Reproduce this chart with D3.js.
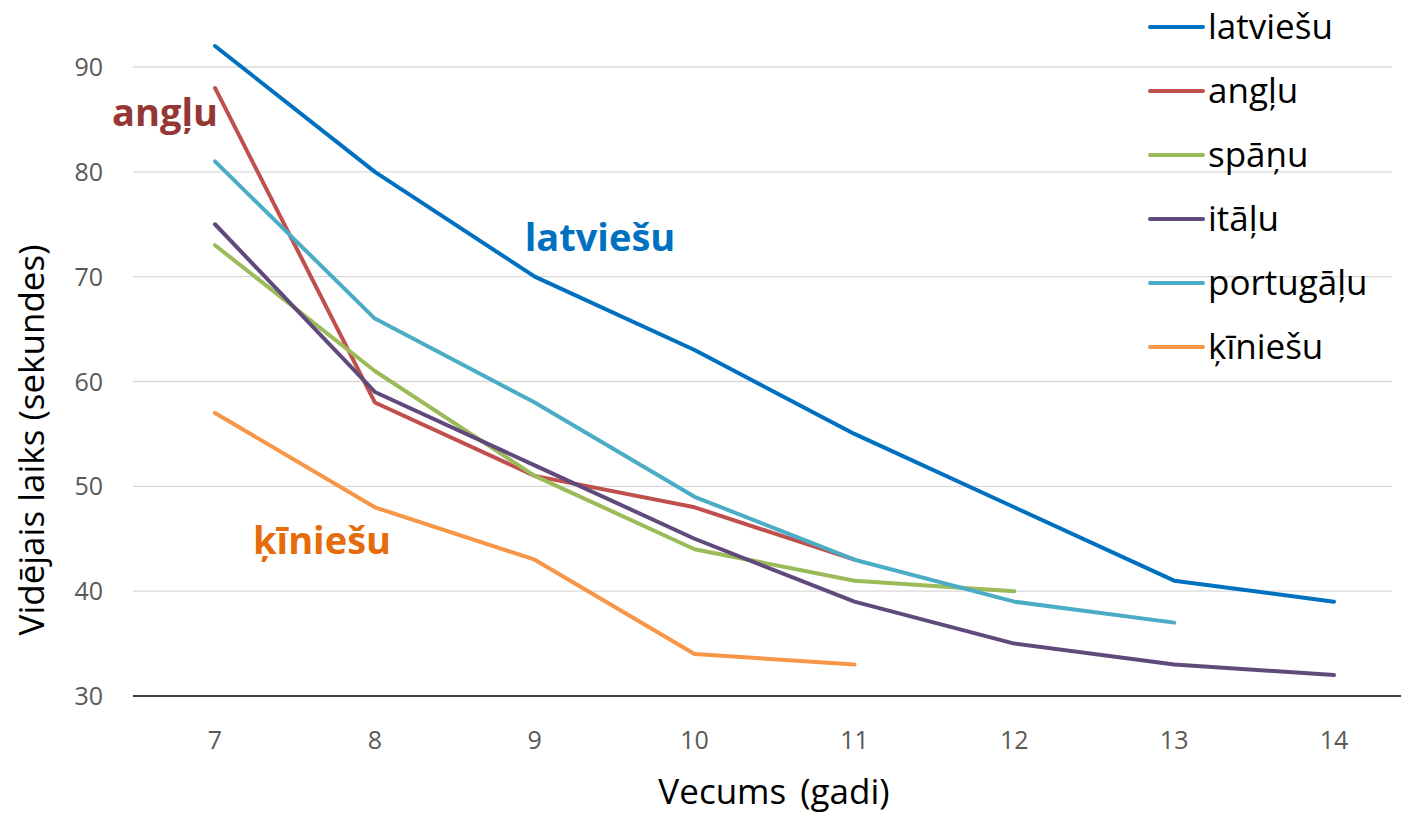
<!DOCTYPE html>
<html><head><meta charset="utf-8">
<script src="https://cdn.jsdelivr.net/npm/d3@7"></script>
<style>body{margin:0;background:#fff}svg{display:block;font-family:"Open Sans",sans-serif}</style>
</head><body><svg id="c" width="1401" height="813"></svg>
<script>
const ages = [7, 8, 9, 10, 11, 12, 13, 14];
const yTicks = [30, 40, 50, 60, 70, 80, 90];
const seriesNames = ["latviešu", "angļu", "spāņu", "itāļu", "portugāļu", "ķīniešu"];
const latviesu = [92, 80, 70, 63, 55, 48, 41, 39];
const anglu = [88, 58, 51, 48, 43];
const spanu = [73, 61, 51, 44, 41, 40];
const italu = [75, 59, 52, 45, 39, 35, 33, 32];
const portugalu = [81, 66, 58, 49, 43, 39, 37];
const kiniesu = [57, 48, 43, 34, 33];
const colors = ["#0070C0", "#C0504D", "#9BBB59", "#604A7B", "#4BACC6", "#F79646"];
const annotations = [
  {text: "angļu", color: "#953735"},
  {text: "latviešu", color: "#0070C0"},
  {text: "ķīniešu", color: "#E46C0A"}
];

const svg = d3.select("#c");
const x = d3.scalePoint().domain(ages).range([215, 1334]);
const y = d3.scaleLinear().domain([30, 90]).range([696, 67]);

// gridlines
svg.append("g").selectAll("line").data(yTicks.filter(t => t !== 30)).join("line")
  .attr("x1", 133).attr("x2", 1392)
  .attr("y1", d => y(d)).attr("y2", d => y(d))
  .attr("stroke", "#d9d9d9").attr("stroke-width", 1.3);
// baseline
svg.append("line").attr("x1", 133).attr("x2", 1401).attr("y1", y(30)).attr("y2", y(30))
  .attr("stroke", "#000").attr("stroke-width", 1.5);

// y ticks
svg.append("g").selectAll("text").data(yTicks).join("text")
  .attr("x", 103).attr("y", d => y(d)).attr("dy", "0.36em")
  .attr("text-anchor", "end").attr("font-size", 25).attr("fill", "#595959")
  .text(d => d);
// x ticks
svg.append("g").selectAll("text").data(ages).join("text")
  .attr("x", d => x(d)).attr("y", 740).attr("dy", "0.36em")
  .attr("text-anchor", "middle").attr("font-size", 25).attr("fill", "#595959")
  .text(d => d);

// axis titles
svg.append("text").attr("x", 774).attr("y", 804).attr("text-anchor", "middle")
  .attr("font-size", 35).attr("fill", "#000").attr("word-spacing", 5).text("Vecums (gadi)");
svg.append("text").attr("transform", "translate(44,440) rotate(-90)").attr("text-anchor", "middle")
  .attr("font-size", 35).attr("fill", "#000").text("Vidējais laiks (sekundes)");

// lines
const data = [latviesu, anglu, spanu, italu, portugalu, kiniesu];
const line = d3.line().x((d, i) => x(ages[i])).y(d => y(d));
const drawOrder = [1, 2, 3, 4, 5, 0];
svg.append("g").selectAll("path").data(drawOrder).join("path")
  .attr("d", i => line(data[i]))
  .attr("fill", "none").attr("stroke", i => colors[i]).attr("stroke-width", 4)
  .attr("stroke-linejoin", "round").attr("stroke-linecap", "round");

// annotations
const annPos = [[165, 126], [600, 251], [322, 554]];
svg.append("g").selectAll("text").data(annotations).join("text")
  .attr("x", (d, i) => annPos[i][0]).attr("y", (d, i) => annPos[i][1])
  .attr("text-anchor", "middle").attr("font-size", 38).attr("font-weight", "bold")
  .attr("fill", d => d.color).text(d => d.text);

// legend
const lg = svg.append("g").selectAll("g").data(seriesNames).join("g")
  .attr("transform", (d, i) => `translate(1150,${27 + i * 64})`);
lg.append("line").attr("x1", 0).attr("x2", 53).attr("y1", 0).attr("y2", 0)
  .attr("stroke", (d, i) => colors[i]).attr("stroke-width", 4).attr("stroke-linecap", "round");
lg.append("text").attr("x", 58).attr("y", 0).attr("dy", "0.34em")
  .attr("font-size", 35).attr("fill", "#000").text(d => d);
</script></body></html>
